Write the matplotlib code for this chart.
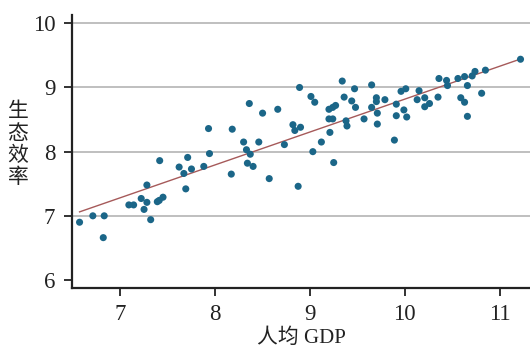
import matplotlib
matplotlib.use('Agg')
import matplotlib.pyplot as plt
import numpy as np

# per-capita GDP (log) and eco-efficiency
gdp = [6.57, 6.71, 6.83, 6.82, 7.09, 7.14, 7.22, 7.25, 7.28, 7.28,
       7.32, 7.39, 7.41, 7.45, 7.415, 7.62, 7.67, 7.69, 7.71, 7.75,
       7.88, 7.93, 7.94, 8.18, 8.17, 8.30, 8.33, 8.36, 8.37, 8.34,
       8.40, 8.46, 8.50, 8.57, 8.66, 8.73, 8.82, 8.84, 8.90, 8.89,
       8.875, 9.01, 9.05, 9.03, 9.12, 9.21, 9.20, 9.24, 9.27, 9.20,
       9.24, 9.25, 9.34, 9.36, 9.38, 9.39, 9.44, 9.47, 9.48, 9.57,
       9.65, 9.70, 9.70, 9.65, 9.71, 9.71, 9.79, 9.89, 9.91, 9.91,
       9.96, 9.99, 10.01, 10.02, 10.13, 10.15, 10.21, 10.21, 10.26, 10.35,
       10.36, 10.44, 10.45, 10.56, 10.59, 10.63, 10.66, 10.63, 10.66, 10.71,
       10.74, 10.81, 10.85, 11.22]
eff = [6.90, 7.00, 7.00, 6.66, 7.17, 7.17, 7.27, 7.10, 7.21, 7.48,
       6.94, 7.22, 7.24, 7.29, 7.86, 7.76, 7.66, 7.42, 7.91, 7.73,
       7.77, 8.36, 7.97, 8.35, 7.65, 8.15, 8.03, 8.75, 7.96, 7.82,
       7.77, 8.15, 8.60, 7.58, 8.66, 8.11, 8.42, 8.33, 8.38, 9.00,
       7.46, 8.86, 8.77, 8.00, 8.15, 8.30, 8.66, 8.69, 8.72, 8.51,
       8.51, 7.83, 9.10, 8.85, 8.48, 8.40, 8.79, 8.98, 8.69, 8.51,
       9.04, 8.84, 8.78, 8.69, 8.60, 8.43, 8.81, 8.18, 8.74, 8.56,
       8.94, 8.65, 8.98, 8.54, 8.81, 8.95, 8.84, 8.70, 8.75, 8.85,
       9.14, 9.11, 9.03, 9.14, 8.84, 8.77, 8.55, 9.17, 9.03, 9.18,
       9.25, 8.91, 9.27, 9.44]

xticks = [7, 8, 9, 10, 11]
yticks = [6, 7, 8, 9, 10]

fam = ['Liberation Serif', 'Noto Sans CJK SC']

fig = plt.figure(figsize=(5.3, 3.48), dpi=100)
ax = fig.add_axes([0.1358, 0.1733, 0.8642, 0.7837])

x = np.array(gdp)
y = np.array(eff)
k, b = np.polyfit(x, y, 1)
xs = np.array([x.min(), x.max()])
ax.plot(xs, k * xs + b, color='#a65a5a', lw=1.0, zorder=2)
ax.scatter(x, y, s=26, color='#1b6688', edgecolors='none', zorder=3)

ax.set_xlim(6.49, 11.32)
ax.set_ylim(5.88, 10.13)
ax.set_xticks(xticks)
ax.set_yticks(yticks)
for t in yticks[1:]:
    ax.axhline(t, color='#b4b4b4', lw=1.2, zorder=1)

for s in ['top', 'right']:
    ax.spines[s].set_visible(False)
for s in ['left', 'bottom']:
    ax.spines[s].set_linewidth(1.6)
    ax.spines[s].set_color('#222222')
ax.tick_params(direction='out', length=6, width=1.3, color='#222222', pad=6)
for lab in ax.get_xticklabels() + ax.get_yticklabels():
    lab.set_family(fam)
    lab.set_fontsize(16.5)
    lab.set_color('#222222')

ax.set_xlabel('人均 GDP', family=fam, fontsize=15, color='#222222', va='center')
ax.xaxis.set_label_coords(0.5, -0.185)
ax.set_ylabel('生\n态\n效\n率', family=fam, fontsize=15, color='#222222',
              rotation=0, ha='center', va='center', linespacing=1.2)
ax.yaxis.set_label_coords(-0.118, 0.52)

fig.savefig('out.png', dpi=100)
